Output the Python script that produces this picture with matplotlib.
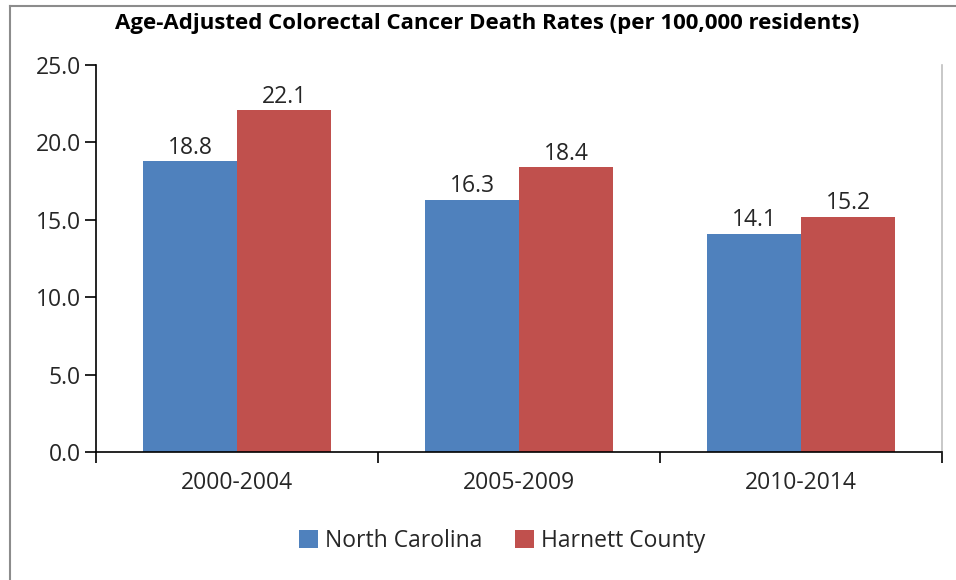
import matplotlib
matplotlib.use("Agg")
import matplotlib.pyplot as plt
from matplotlib.lines import Line2D
from matplotlib.patches import Patch
import numpy as np

periods = ["2000-2004", "2005-2009", "2010-2014"]
north_carolina = [18.8, 16.3, 14.1]
harnett_county = [22.1, 18.4, 15.2]
series_names = ["North Carolina", "Harnett County"]
y_ticks = [0.0, 5.0, 10.0, 15.0, 20.0, 25.0]

blue = "#4F81BD"
red = "#C0504D"
text_color = "#262626"

plt.rcParams["font.family"] = ["Open Sans", "DejaVu Sans"]

W, H = 956, 580
fig = plt.figure(figsize=(W / 100, H / 100), dpi=100)

# plot area in pixel coordinates
left, right, top, bottom = 96, 942, 65, 452
ax = fig.add_axes([left / W, 1 - bottom / H, (right - left) / W, (bottom - top) / H])

x = np.arange(len(periods))
width = 1 / 3
b1 = ax.bar(x - width / 2, north_carolina, width, color=blue, edgecolor="none")
b2 = ax.bar(x + width / 2, harnett_county, width, color=red, edgecolor="none")

label_size = 16.5
for bars, vals in ((b1, north_carolina), (b2, harnett_county)):
    for rect, v in zip(bars, vals):
        ax.annotate(f"{v:.1f}", (rect.get_x() + rect.get_width() / 2, v),
                    xytext=(0, 1), textcoords="offset points",
                    ha="center", va="bottom", fontsize=label_size, color=text_color)

ax.set_xlim(-0.5, len(periods) - 0.5)
ax.set_ylim(0, 25)
ax.set_yticks(y_ticks)
ax.set_yticklabels([f"{t:.1f}" for t in y_ticks], fontsize=label_size, color=text_color)

# category labels centred, tick marks at category boundaries
ax.set_xticks(x)
ax.set_xticklabels(periods, fontsize=label_size, color=text_color)
ax.tick_params(axis="x", which="major", length=0, pad=14)
ax.set_xticks(np.arange(-0.5, len(periods)), minor=True)
ax.tick_params(axis="x", which="minor", length=8, width=1.2, direction="out", color="black")
ax.tick_params(axis="y", length=8, width=1.2, direction="out", color="black", pad=3)

ax.spines["top"].set_visible(False)
ax.spines["right"].set_color("#BFBFBF")
ax.spines["right"].set_linewidth(1.2)
ax.spines["left"].set_linewidth(1.2)
ax.spines["bottom"].set_linewidth(1.2)

fig.text(487 / W, 1 - 23 / H,
         "Age-Adjusted Colorectal Cancer Death Rates (per 100,000 residents)",
         ha="center", va="center", fontsize=16, fontweight="bold", color="black")

handles = [Patch(facecolor=blue, edgecolor="none"), Patch(facecolor=red, edgecolor="none")]
fig.legend(handles, series_names, loc="center", bbox_to_anchor=(502 / W, 1 - 541 / H),
           ncol=2, frameon=False, fontsize=label_size, handlelength=0.85, handleheight=0.85,
           handletextpad=0.3, columnspacing=1.4, labelcolor=text_color)

# outer frame: top and left edges
fig.add_artist(Line2D([10 / W, 1], [1 - 6 / H, 1 - 6 / H], color="#8C8C8C", lw=1.5))
fig.add_artist(Line2D([10 / W, 10 / W], [0, 1 - 6 / H], color="#8C8C8C", lw=1.5))

fig.savefig("out.png", dpi=100)
